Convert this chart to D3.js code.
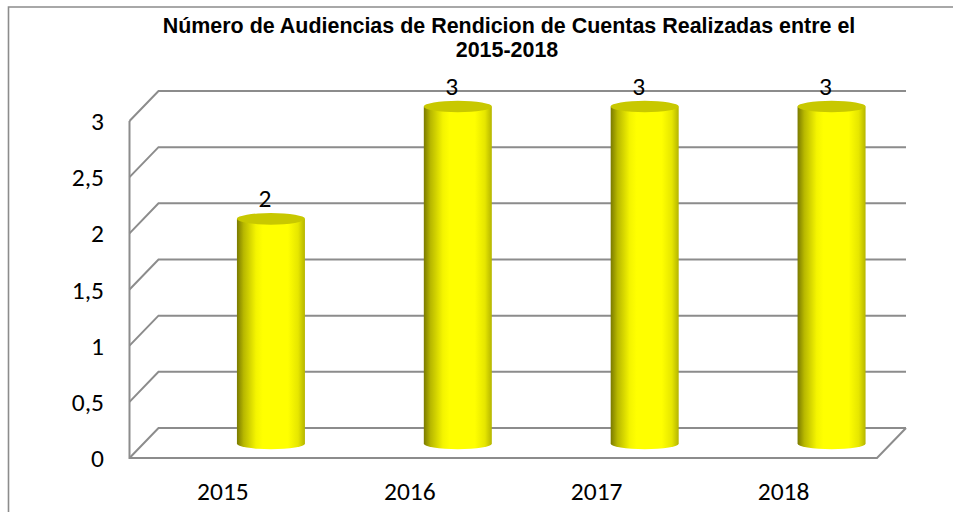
<!DOCTYPE html>
<html><head><meta charset="utf-8">
<script src="https://cdn.jsdelivr.net/npm/d3@7"></script>
<style>html,body{margin:0;padding:0;background:#fff}svg{display:block}</style></head>
<body><svg id="c" width="953" height="512"></svg>
<script>
const categories = ["2015","2016","2017","2018"];
const values = [2,3,3,3];
const yTicks = [0,0.5,1,1.5,2,2.5,3];
const yTickLabels = ["0","0,5","1","1,5","2","2,5","3"];
const titleLines = ["Número de Audiencias de Rendicion de Cuentas Realizadas entre el","2015-2018"];

const svg = d3.select("#c");
const grey = "#8c8c8c";
const depthX = 29, depthY = -30;
const left = 129.5, right = 877;
const x = d3.scaleBand().domain(categories).range([left,right]);
const y = d3.scaleLinear().domain([0,3]).range([458,121]);

// frame
svg.append("path").attr("d","M8.5,512V7H953").attr("fill","none").attr("stroke",grey).attr("stroke-width",1.6);

// title
svg.append("g").selectAll("text").data(titleLines).join("text")
  .attr("x",(d,i)=>i?507:509).attr("y",(d,i)=>33+i*24).attr("text-anchor","middle")
  .attr("font-family","Liberation Sans").attr("font-weight","bold").attr("font-size",21.45).attr("fill","#000").text(d=>d);

// walls
const walls = svg.append("g").attr("fill","none").attr("stroke",grey).attr("stroke-width",2);
walls.selectAll("path.g").data(yTicks).join("path").attr("class","g")
  .attr("d",d=>`M${left},${y(d)}l${depthX},${depthY}H${right+depthX}`);
walls.append("path").attr("d",`M${left},${y(3)}V${y(0)}H${right}l${depthX},${depthY}`);

// gradient
const defs = svg.append("defs");
const g = defs.append("linearGradient").attr("id","cyl");
[[0,"#7a7a00"],[0.1,"#b8b800"],[0.28,"#f4f400"],[0.38,"#ffff00"],[0.75,"#ffff00"],[0.9,"#e6e600"],[1,"#b5b500"]]
 .forEach(s=>g.append("stop").attr("offset",s[0]).attr("stop-color",s[1]));

// bars
const bw = 68, ry = 5.8;
const baseY = y(0)-14.5;
const bh = d3.scaleLinear().domain([0,3]).range([0,y(0)-y(3)]);
const cx = c => x(c)+x.bandwidth()/2+48;
const bars = svg.append("g").selectAll("g").data(categories.map((c,i)=>({c,v:values[i]}))).join("g");
bars.append("path").attr("fill","url(#cyl)")
  .attr("d",d=>{const t=baseY-bh(d.v);const l=cx(d.c)-bw/2,r=cx(d.c)+bw/2;
    return `M${l},${t}V${baseY}A${bw/2},${ry} 0 0 0 ${r},${baseY}V${t}Z`;});
bars.append("ellipse").attr("fill","#c8c800")
  .attr("cx",d=>cx(d.c)).attr("cy",d=>baseY-bh(d.v)).attr("rx",bw/2).attr("ry",ry);

// value labels
const font = "Carlito, Calibri, 'Open Sans', 'Noto Sans', sans-serif";
bars.append("text").attr("x",d=>cx(d.c)-6).attr("y",d=>baseY-bh(d.v)-12)
  .attr("text-anchor","middle").attr("font-family",font).attr("font-size",25.5).attr("fill","#000").text(d=>d.v);

// axis labels
svg.append("g").selectAll("text").data(yTicks).join("text")
  .attr("x",104).attr("y",(d)=>y(d)+9).attr("text-anchor","end")
  .attr("font-family",font).attr("font-size",25.5).attr("fill","#000").text((d,i)=>yTickLabels[i]);
svg.append("g").selectAll("text").data(categories).join("text")
  .attr("x",c=>x(c)+x.bandwidth()/2).attr("y",500).attr("text-anchor","middle")
  .attr("font-family",font).attr("font-size",25.5).attr("fill","#000").text(c=>c);
</script></body></html>
